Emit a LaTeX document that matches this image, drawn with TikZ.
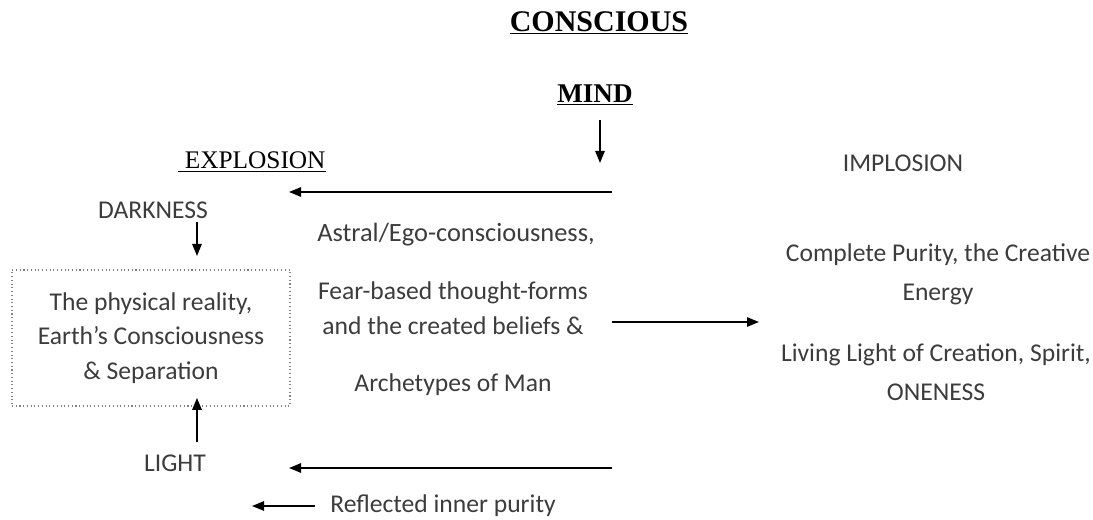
\documentclass[tikz,border=0pt]{standalone}
\usepackage{fontspec}
\setmainfont{Carlito}
\newfontfamily\serifrm{Liberation Serif}
\usetikzlibrary{arrows.meta}
\definecolor{txt}{HTML}{3C3C3C}
\tikzset{
  lab/.style={text=txt, font=\fontsize{19.2}{26}\selectfont, inner sep=0pt, align=center},
  labw/.style={lab, font=\fontsize{19.2}{29.5}\selectfont},
  ser/.style={text=black, font=\serifrm\fontsize{19}{22}\selectfont, inner sep=0pt},
  arr/.style={-{Triangle[length=9pt,width=7pt]}, line width=1.3pt, black},
  dotbox/.style={draw=gray, dotted, line width=0.8pt, minimum width=208.5pt, minimum height=102pt, inner sep=0pt}
}
\begin{document}
\begin{tikzpicture}[x=0.75pt,y=-0.75pt]
\useasboundingbox (0,0) rectangle (1093,520);
% titles
\node[ser, font=\serifrm\bfseries\fontsize{22.5}{24}\selectfont] (conscious) at (599,23) {\underline{CONSCIOUS}};
\node[ser, font=\serifrm\bfseries\fontsize{20.3}{22}\selectfont] (mind) at (595,95) {\underline{MIND}};
\node[ser] (explosion) at (252,162) {\underline{\ EXPLOSION}};
\node[lab] (implosion) at (903,163) {IMPLOSION};
% left column
\node[lab] (darkness) at (153,210) {DARKNESS};
\node[dotbox, lab] (box) at (151,338) {The physical reality,\\Earth’s Consciousness\\\& Separation};
\node[lab] (light) at (175,463) {LIGHT};
% middle
\node[lab, font=\fontsize{19.8}{26}\selectfont] (astral) at (456,235) {Astral/Ego-consciousness,};
\node[lab] (fear) at (453,308) {Fear-based thought-forms\\and the created beliefs \&};
\node[lab] (arche) at (453,385) {Archetypes of Man};
\node[lab] (reflected) at (443,506) {Reflected inner purity};
% right
\node[labw] (complete) at (938,274) {Complete Purity, the Creative\\Energy};
\node[labw] (living) at (936,372) {Living Light of Creation, Spirit,\\ONENESS};
% coordinates for arrows
\coordinate (mindA) at (600,120);
\coordinate (mindB) at (600,163);
\coordinate (topR) at (612,192);
\coordinate (topL) at (289,192);
\coordinate (darkA) at (197,222);
\coordinate (darkB) at (197,256);
\coordinate (midR) at (612,322);
\coordinate (midL) at (759,322);
\coordinate (botR) at (612,468);
\coordinate (botL) at (289,468);
\coordinate (smallR) at (315,506);
\coordinate (smallL) at (252,506);
\coordinate (lightA) at (197,442);
% arrows
\draw[arr] (mindA) -- (mindB);
\draw[arr] (topR) -- (topL);
\draw[arr] (darkA) -- (darkB);
\draw[arr] (midR) -- (midL);
\draw[arr] (botR) -- (botL);
\draw[arr] (smallR) -- (smallL);
\draw[arr] (lightA) -- ([yshift=6.5pt]lightA |- box.south);
\end{tikzpicture}
\end{document}
